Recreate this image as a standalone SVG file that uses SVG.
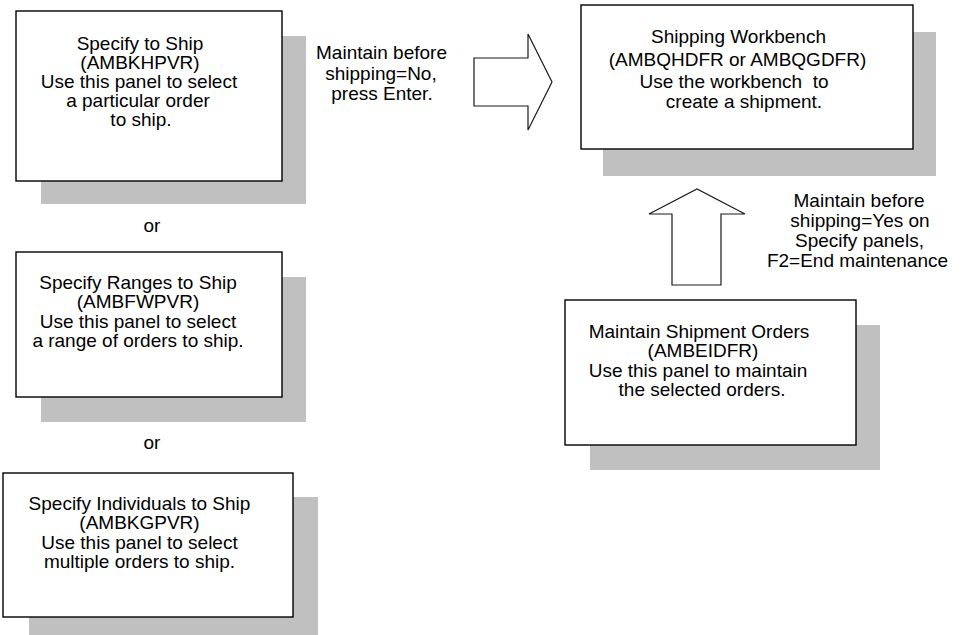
<svg xmlns="http://www.w3.org/2000/svg" width="969" height="635" viewBox="0 0 969 635">
<style>
.bg{fill:#ffffff}
.sh{fill:#c0c0c0}
.box{fill:#ffffff;stroke:#000000;stroke-width:1.4}
.arr{fill:#ffffff;stroke:#1a1a1a;stroke-width:1.2;stroke-linejoin:miter}
text{font-family:"Liberation Sans",Arial,sans-serif;font-size:19px;fill:#000000;text-anchor:middle}
</style>
<rect class="bg" x="0" y="0" width="969" height="635"/>
<g id="specify-to-ship">
<rect class="sh" x="41" y="36" width="265" height="168"/>
<rect class="box" x="16" y="11" width="266" height="170"/>
<text x="140" y="50">Specify to Ship</text>
<text x="140" y="69">(AMBKHPVR)</text>
<text x="139" y="88">Use this panel to select</text>
<text x="138" y="107">a particular order</text>
<text x="141" y="126">to ship.</text>
</g>
<g id="specify-ranges">
<rect class="sh" x="41" y="277" width="265" height="145"/>
<rect class="box" x="16" y="252" width="266" height="145"/>
<text x="138" y="289">Specify Ranges to Ship</text>
<text x="138" y="308">(AMBFWPVR)</text>
<text x="138" y="328">Use this panel to select</text>
<text x="138" y="347">a range of orders to ship.</text>
</g>
<g id="specify-individuals">
<rect class="sh" x="29" y="497" width="289" height="145"/>
<rect class="box" x="3" y="473" width="290" height="144"/>
<text x="139.5" y="510">Specify Individuals to Ship</text>
<text x="139.5" y="529">(AMBKGPVR)</text>
<text x="139.5" y="549">Use this panel to select</text>
<text x="139.5" y="568">multiple orders to ship.</text>
</g>
<g id="or-labels">
<text x="152" y="232">or</text>
<text x="152" y="449">or</text>
</g>
<g id="shipping-workbench">
<rect class="sh" x="603" y="32" width="333" height="144"/>
<rect class="box" x="581" y="5" width="332" height="144"/>
<text x="738.5" y="43">Shipping Workbench</text>
<text x="737.5" y="66">(AMBQHDFR or AMBQGDFR)</text>
<text x="734" y="88" xml:space="preserve">Use the workbench  to</text>
<text x="744" y="108">create a shipment.</text>
</g>
<g id="maintain-shipment-orders">
<rect class="sh" x="590" y="325" width="290" height="145"/>
<rect class="box" x="565" y="300" width="291" height="145"/>
<text x="699" y="338">Maintain Shipment Orders</text>
<text x="703" y="357">(AMBEIDFR)</text>
<text x="698" y="377">Use this panel to maintain</text>
<text x="702" y="396">the selected orders.</text>
</g>
<g id="connectors">
<polygon class="arr" points="474,58 528,58 528,34 552,82 528,130 528,106 474,106"/>
<polygon class="arr" points="672,285 672,214 649,214 697,189 745,214 721,214 721,285"/>
<text x="381.5" y="59">Maintain before</text>
<text x="381" y="80">shipping=No,</text>
<text x="382" y="100">press Enter.</text>
<text x="859" y="207">Maintain before</text>
<text x="860" y="227">shipping=Yes on</text>
<text x="859.5" y="247">Specify panels,</text>
<text x="857.5" y="267">F2=End maintenance</text>
</g>
</svg>
